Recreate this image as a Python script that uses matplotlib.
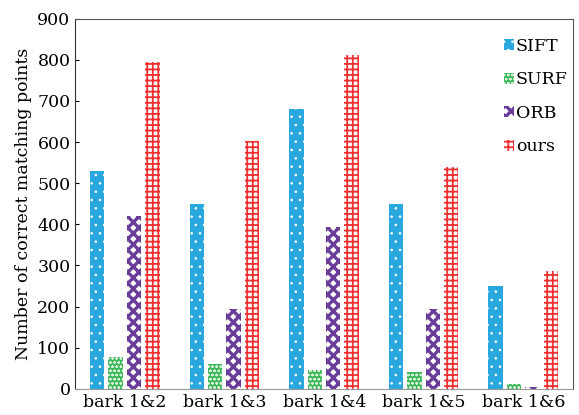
import matplotlib
matplotlib.use("Agg")
import matplotlib.pyplot as plt
import numpy as np

categories = ["bark 1&2", "bark 1&3", "bark 1&4", "bark 1&5", "bark 1&6"]
series_names = ["SIFT", "SURF", "ORB", "ours"]
sift = [530, 450, 680, 450, 250]
surf = [78, 60, 45, 42, 12]
orb = [420, 195, 393, 195, 5]
ours = [795, 603, 812, 540, 287]

plt.rcParams["font.family"] = ["DejaVu Serif"]

fig, ax = plt.subplots(figsize=(5.79, 4.15), dpi=100)
fig.subplots_adjust(left=0.13, right=0.99, top=0.955, bottom=0.063)

x = np.arange(len(categories))
width = 0.145
offsets = [-0.28, -0.095, 0.09, 0.275]
# (facecolor, hatch, hatch colour, hatch linewidth)
styles = [
    ("#29a8e0", "..", "white", 0.6),
    ("#3cb85a", "oooo", "#d8f0d8", 0.6),
    ("white", "xxx", "#6a3d9a", 2.4),
    ("white", "+++", "#f03030", 1.3),
]
for vals, name, off, (fc, h, ec, hlw) in zip([sift, surf, orb, ours], series_names, offsets, styles):
    plt.rcParams["hatch.linewidth"] = hlw
    bars = ax.bar(x + off, vals, width, label=name, color=fc, hatch=h,
                  edgecolor=ec, linewidth=0)
    for b in bars:
        if hasattr(b, "set_hatch_linewidth"):
            b.set_hatch_linewidth(hlw)

ax.set_xlim(-0.5, 4.5)
ax.set_ylim(0, 900)
ax.set_yticks(range(0, 901, 100))
ax.set_xticks(x)
ax.set_xticklabels(categories, fontsize=12.5)
ax.tick_params(axis="y", direction="in", labelsize=12.5, length=3)
ax.tick_params(axis="x", length=0, pad=4)
ax.set_ylabel("Number of correct matching points", fontsize=12.5)
for side in ["top", "right"]:
    ax.spines[side].set_color("#555555")
ax.spines["bottom"].set_color("#999999")
ax.spines["left"].set_color("#333333")

leg = ax.legend(loc="upper right", frameon=False, fontsize=12.5, handlelength=0.6,
                handleheight=0.6, handletextpad=0.1, labelspacing=0.95,
                bbox_to_anchor=(1.02, 0.99))
for p, (_, _, _, hlw) in zip(leg.get_patches(), styles):
    if hasattr(p, "set_hatch_linewidth"):
        p.set_hatch_linewidth(hlw)

fig.savefig("out.png", dpi=100, facecolor="white")
